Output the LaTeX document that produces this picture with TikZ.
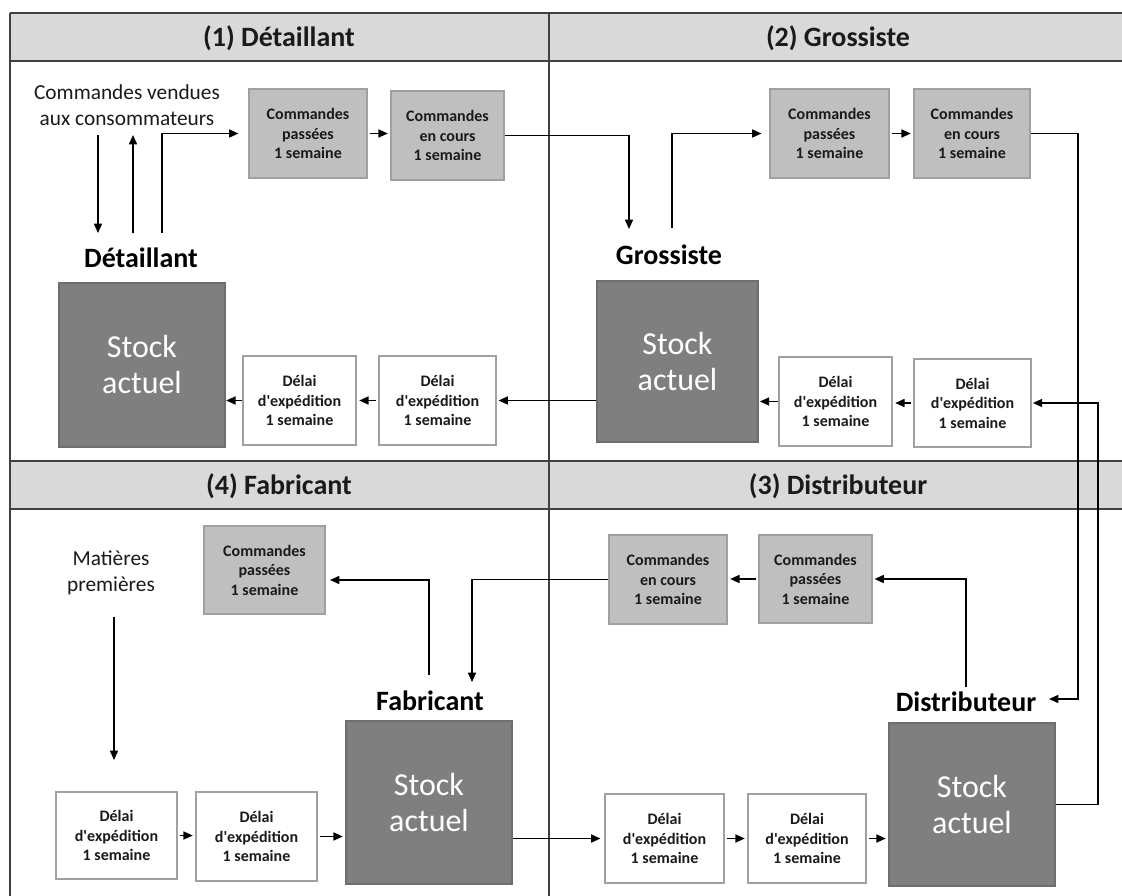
\documentclass[tikz,border=0pt]{standalone}
\usepackage{fontspec}
\setmainfont{Carlito}
\usetikzlibrary{arrows.meta}
\definecolor{bandc}{HTML}{D9D9D9}
\definecolor{cmdfill}{HTML}{BFBFBF}
\definecolor{boxline}{HTML}{A0A0A0}
\definecolor{stockfill}{HTML}{7F7F7F}
\definecolor{stockline}{HTML}{6E6E6E}
\definecolor{framec}{HTML}{404040}
\definecolor{txtc}{HTML}{1A1A1A}
\newcommand\pbox[7]{\node[#2, minimum width={(#5-#3)*0.75pt}, minimum height={(#6-#4)*0.75pt}] (#1) at ({(#3+#5)/2},{(#4+#6)/2}) {#7};}
\begin{document}
\begin{tikzpicture}[x=0.75pt, y=-0.75pt,
  frm/.style={draw=framec, line width=1.4pt},
  cmd/.style={draw=boxline, fill=cmdfill, line width=0.8pt, inner sep=0pt, align=center, text=txtc, font=\bfseries\fontsize{12}{14.6}\selectfont},
  dly/.style={draw=boxline, fill=white, line width=0.8pt, inner sep=0pt, align=center, text=txtc, font=\bfseries\fontsize{12}{14.6}\selectfont},
  stk/.style={draw=stockline, fill=stockfill, line width=0.8pt, inner sep=0pt, align=center, text=white, font=\fontsize{24}{27}\selectfont},
  hdr/.style={text=txtc, font=\bfseries\fontsize{21}{25}\selectfont},
  lbl/.style={text=black, font=\bfseries\fontsize{21}{25}\selectfont},
  txt/.style={text=txtc, align=center, font=\fontsize{16}{19.5}\selectfont},
  arr/.style={draw=black, line width=1.2pt, -{Triangle[length=7pt,width=6pt]}},
  gap/.style={shorten <=1.5pt, shorten >=2pt}
]
\useasboundingbox (0,0) rectangle (1122,896);
% frame and header bands
\fill[bandc] (10,13) rectangle (1122,61);
\fill[bandc] (10,461) rectangle (1122,509);
\draw[frm] (10,13) -- (1122,13);
\draw[frm] (10,61) -- (1122,61);
\draw[frm] (10,461) -- (1122,461);
\draw[frm] (10,509) -- (1122,509);
\draw[frm] (10,13) -- (10,896);
\draw[frm] (549,13) -- (549,896);
% headers
\node[hdr] (h1) at (279,38) {(1) Détaillant};
\node[hdr] (h2) at (838,38) {(2) Grossiste};
\node[hdr] (h4) at (279,486) {(4) Fabricant};
\node[hdr] (h3) at (838,486) {(3) Distributeur};
% free labels
\node[txt] (cv) at (127,105) {Commandes vendues\\aux consommateurs};
\node[txt] (mp) at (111,573) {Matières\\premières};
\node[lbl] (lD) at (141,258) {Détaillant};
\node[lbl] (lG) at (669,255) {Grossiste};
\node[lbl] (lF) at (430,701) {Fabricant};
\node[lbl] (lT) at (966,702) {Distributeur};
% boxes section 1
\pbox{CP1}{cmd}{249}{89}{367}{178}{Commandes\\passées\\1 semaine}
\pbox{EC1}{cmd}{391}{91}{504}{180}{Commandes\\en cours\\1 semaine}
\pbox{S1}{stk}{59}{283}{225}{447}{Stock\\actuel}
\pbox{D1a}{dly}{243}{356}{356}{445}{Délai\\d\textquotesingle expédition\\1 semaine}
\pbox{D1b}{dly}{379}{356}{496}{445}{Délai\\d\textquotesingle expédition\\1 semaine}
% section 2
\pbox{CP2}{cmd}{770}{89}{889}{178}{Commandes\\passées\\1 semaine}
\pbox{EC2}{cmd}{914}{89}{1030}{178}{Commandes\\en cours\\1 semaine}
\pbox{S2}{stk}{597}{281}{758}{442}{Stock\\actuel}
\pbox{D2a}{dly}{779}{357}{892}{446}{Délai\\d\textquotesingle expédition\\1 semaine}
\pbox{D2b}{dly}{914}{359}{1031}{447}{Délai\\d\textquotesingle expédition\\1 semaine}
% section 3
\pbox{EC3}{cmd}{609}{535}{727}{624}{Commandes\\en cours\\1 semaine}
\pbox{CP3}{cmd}{759}{535}{872}{623}{Commandes\\passées\\1 semaine}
\pbox{S3}{stk}{889}{723}{1055}{886}{Stock\\actuel}
\pbox{D3a}{dly}{605}{794}{724}{883}{Délai\\d\textquotesingle expédition\\1 semaine}
\pbox{D3b}{dly}{748}{794}{866}{883}{Délai\\d\textquotesingle expédition\\1 semaine}
% section 4
\pbox{CP4}{cmd}{204}{526}{325}{614}{Commandes\\passées\\1 semaine}
\pbox{S4}{stk}{346}{721}{512}{884}{Stock\\actuel}
\pbox{D4a}{dly}{56}{792}{177}{879}{Délai\\d\textquotesingle expédition\\1 semaine}
\pbox{D4b}{dly}{196}{792}{317}{881}{Délai\\d\textquotesingle expédition\\1 semaine}
% named free ends
\coordinate (a1s) at (98,135);
\coordinate (a1e) at (98,233);
\coordinate (a2s) at (133,233);
\coordinate (a2e) at (133,135);
\coordinate (a3s) at (162,233);
\coordinate (gin) at (629,229);
\coordinate (gout) at (672,228);
\coordinate (tin1) at (1078,699);
\coordinate (tin2) at (1049,699);
\coordinate (r2) at (1098,403);
\coordinate (tout) at (966,687);
\coordinate (fin) at (472,682);
\coordinate (fout) at (429,675);
\coordinate (fcp) at (330,580);
\coordinate (mps) at (114,617);
\coordinate (mpe) at (114,760);
% connectors section 1
\draw[arr] (a1s) -- (a1e);
\draw[arr] (a2s) -- (a2e);
\draw[arr, shorten >=7.5pt] (a3s) |- (CP1.west);
\draw[arr, gap] (CP1.east) -- (CP1.east -| EC1.west);
\draw[arr] (EC1.east) -| (gin);
\draw[arr, shorten >=1.5pt] (S2.west |- D1b.east) -- (D1b.east);
\draw[arr, gap] (D1b.west) -- (D1b.west -| D1a.east);
\draw[arr, shorten >=0.5pt] (D1a.west) -- (D1a.west -| S1.east);
% section 2
\draw[arr, shorten >=6pt] (gout) |- (CP2.west);
\draw[arr, gap] (CP2.east) -- (CP2.east -| EC2.west);
\draw[arr] (EC2.east) -| (tin1) -- (tin2);
\draw[arr, gap] (D2b.west) -- (D2b.west -| D2a.east);
\draw[arr, shorten >=1pt] (D2a.west) -- (D2a.west -| S2.east);
\draw[arr, shorten >=1pt] (S3.east) -| (r2) -- (D2b.east);
% section 3
\draw[arr, gap] (CP3.west) -- (CP3.west -| EC3.east);
\draw[arr, shorten >=1.5pt] (tout) |- (CP3.east);
\draw[arr] (EC3.west) -| (fin);
\draw[arr, gap] (D3a.east) -- (D3a.east -| D3b.west);
\draw[arr, gap] (D3b.east) -- (D3b.east -| S3.west);
% section 4
\draw[arr] (fout) |- (fcp);
\draw[arr] (mps) -- (mpe);
\draw[arr, gap] (D4a.east) -- (D4a.east -| D4b.west);
\draw[arr, gap] (D4b.east) -- (D4b.east -| S4.west);
\draw[arr, shorten >=3pt] (S4.east |- D3a.west) -- (D3a.west);
\end{tikzpicture}
\end{document}
